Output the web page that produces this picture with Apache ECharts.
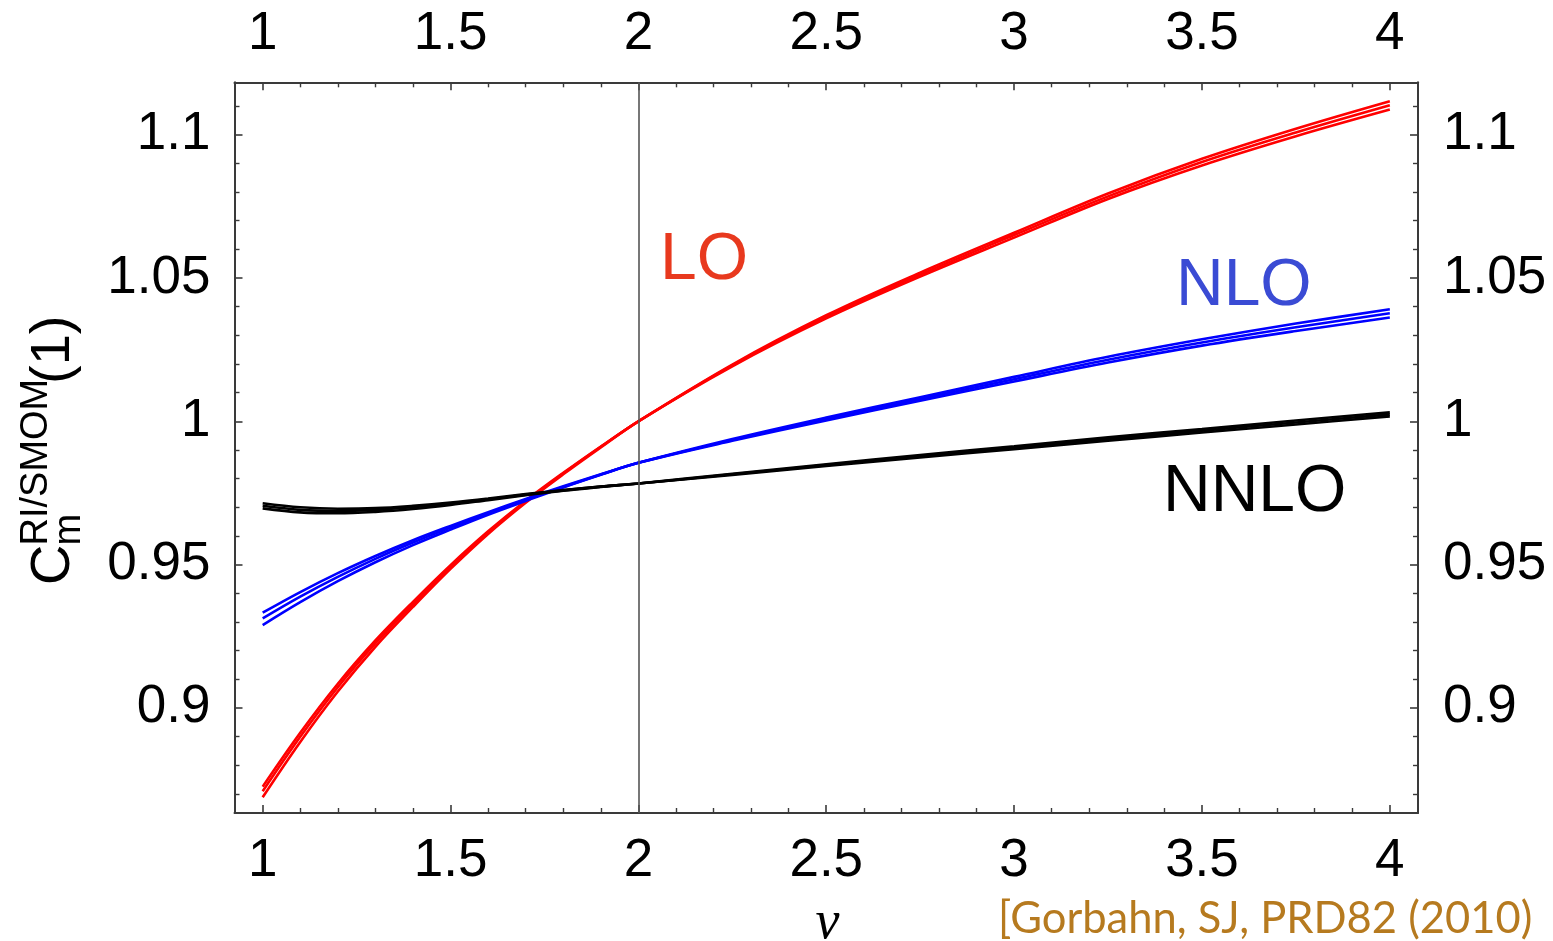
<!DOCTYPE html>
<html>
<head>
<meta charset="utf-8">
<script src="https://cdn.jsdelivr.net/npm/echarts@6/dist/echarts.min.js"></script>
<style>
html,body{margin:0;padding:0;background:#fff;}
#chart{width:1553px;height:941px;}
</style>
</head>
<body>
<div id="chart"></div>
<script>
// ---- data ----
const nu = [1.0, 1.1, 1.2, 1.3, 1.4, 1.5, 1.6, 1.7, 1.8, 1.9, 2.0, 2.25, 2.5, 2.75, 3.0, 3.25, 3.5, 3.75, 4.0];

const loHigh = [0.8725, 0.8913, 0.9084, 0.9235, 0.9370, 0.9498, 0.9616, 0.9723, 0.9820, 0.9912, 1.0000, 1.0198, 1.0370, 1.0519, 1.0658, 1.0795, 1.0916, 1.1021, 1.1117];
const loMid  = [0.8709, 0.8899, 0.9072, 0.9225, 0.9362, 0.9492, 0.9612, 0.9720, 0.9818, 0.9911, 1.0000, 1.0195, 1.0365, 1.0512, 1.0650, 1.0785, 1.0905, 1.1008, 1.1103];
const loLow  = [0.8688, 0.8881, 0.9057, 0.9213, 0.9352, 0.9485, 0.9607, 0.9716, 0.9815, 0.9909, 1.0000, 1.0192, 1.0359, 1.0505, 1.0641, 1.0776, 1.0893, 1.0995, 1.1088];

const nloHigh = [0.9332, 0.9404, 0.9470, 0.9530, 0.9585, 0.9635, 0.9683, 0.9729, 0.9773, 0.9815, 0.9855, 0.9938, 1.0013, 1.0084, 1.0155, 1.0225, 1.0286, 1.0341, 1.0391];
const nloMid  = [0.9312, 0.9388, 0.9457, 0.9520, 0.9577, 0.9629, 0.9679, 0.9726, 0.9771, 0.9814, 0.9855, 0.9935, 1.0008, 1.0078, 1.0147, 1.0215, 1.0275, 1.0328, 1.0377];
const nloLow  = [0.9289, 0.9369, 0.9442, 0.9508, 0.9568, 0.9622, 0.9674, 0.9722, 0.9769, 0.9813, 0.9855, 0.9932, 1.0003, 1.0072, 1.0139, 1.0205, 1.0264, 1.0315, 1.0362];

const nnloHigh = [0.9714, 0.9700, 0.9695, 0.9697, 0.9705, 0.9716, 0.9730, 0.9746, 0.9760, 0.9772, 0.9783, 0.9817, 0.9850, 0.9882, 0.9913, 0.9944, 0.9973, 1.0003, 1.0031];
const nnloMid  = [0.9705, 0.9691, 0.9687, 0.9691, 0.9700, 0.9712, 0.9728, 0.9744, 0.9759, 0.9772, 0.9783, 0.9815, 0.9847, 0.9878, 0.9908, 0.9938, 0.9967, 0.9996, 1.0024];
const nnloLow  = [0.9696, 0.9682, 0.9679, 0.9684, 0.9694, 0.9708, 0.9725, 0.9742, 0.9758, 0.9771, 0.9783, 0.9813, 0.9844, 0.9874, 0.9903, 0.9932, 0.9961, 0.9989, 1.0017];

const xMajorTicks = [1, 1.5, 2, 2.5, 3, 3.5, 4];
const xMinorTicks = [1.1, 1.2, 1.3, 1.4, 1.6, 1.7, 1.8, 1.9, 2.1, 2.2, 2.3, 2.4, 2.6, 2.7, 2.8, 2.9, 3.1, 3.2, 3.3, 3.4, 3.6, 3.7, 3.8, 3.9];
const yMajorTicks = [0.9, 0.95, 1, 1.05, 1.1];
const yMinorTicks = [0.87, 0.88, 0.89, 0.91, 0.92, 0.93, 0.94, 0.96, 0.97, 0.98, 0.99, 1.01, 1.02, 1.03, 1.04, 1.06, 1.07, 1.08, 1.09, 1.11];
const refLineAt = 2;

const xRange = [0.925, 4.075];
const yRange = [0.8633, 1.1183];

// ---- chart ----
const chart = echarts.init(document.getElementById('chart'), null, {renderer: 'canvas'});
const FONT = 'Liberation Sans, Arial, Helvetica, sans-serif';
const frameColor = '#3a3a3a';
const gridBox = {left: 234.5, top: 82.3, width: 1183.5, height: 730.7};

function majorX(pos) {
  return {
    type: 'value', gridIndex: 0, position: pos, min: xRange[0], max: xRange[1],
    axisLine: {show: true, onZero: false, lineStyle: {color: frameColor, width: 2}},
    axisTick: {show: true, inside: true, length: 8, customValues: xMajorTicks, lineStyle: {color: frameColor, width: 1.6}},
    axisLabel: {show: true, customValues: xMajorTicks, fontSize: 53, fontFamily: FONT, color: '#000', margin: pos === 'bottom' ? 22 : 21,
      formatter: v => String(+v.toFixed(2))},
    splitLine: {show: false}
  };
}
function minorX(pos) {
  return {
    type: 'value', gridIndex: 1, position: pos, min: xRange[0], max: xRange[1],
    axisLine: {show: false, onZero: false},
    axisTick: {show: true, inside: true, length: 5, customValues: xMinorTicks, lineStyle: {color: frameColor, width: 1.4}},
    axisLabel: {show: false},
    splitLine: {show: false}
  };
}
function majorY(pos) {
  return {
    type: 'value', gridIndex: 0, position: pos, min: yRange[0], max: yRange[1],
    axisLine: {show: true, onZero: false, lineStyle: {color: frameColor, width: 2}},
    axisTick: {show: true, inside: true, length: 8, customValues: yMajorTicks, lineStyle: {color: frameColor, width: 1.6}},
    axisLabel: {show: true, customValues: yMajorTicks, fontSize: 53, fontFamily: FONT, color: '#000', margin: pos === 'left' ? 24 : 25,
      formatter: v => String(+v.toFixed(2))},
    splitLine: {show: false}
  };
}
function minorY(pos) {
  return {
    type: 'value', gridIndex: 1, position: pos, min: yRange[0], max: yRange[1],
    axisLine: {show: false, onZero: false},
    axisTick: {show: true, inside: true, length: 5, customValues: yMinorTicks, lineStyle: {color: frameColor, width: 1.4}},
    axisLabel: {show: false},
    splitLine: {show: false}
  };
}

function curve(name, ys, color, z) {
  return {
    name: name, type: 'line', xAxisIndex: 0, yAxisIndex: 0,
    data: nu.map((x, i) => [x, ys[i]]),
    showSymbol: false, symbol: 'none', smooth: 0.35, z: z,
    lineStyle: {color: color, width: 2.6},
    emphasis: {disabled: true}, silent: true
  };
}

const series = [
  {
    type: 'line', xAxisIndex: 0, yAxisIndex: 0, data: [], z: 1, silent: true,
    markLine: {
      silent: true, symbol: 'none', animation: false,
      label: {show: false},
      lineStyle: {color: '#555', width: 1.6, type: 'solid'},
      data: [{xAxis: refLineAt}]
    }
  },
  curve('LO hi', loHigh, '#ff0000', 2),
  curve('LO', loMid, '#ff0000', 2),
  curve('LO lo', loLow, '#ff0000', 2),
  curve('NLO hi', nloHigh, '#0000ff', 3),
  curve('NLO', nloMid, '#0000ff', 3),
  curve('NLO lo', nloLow, '#0000ff', 3),
  curve('NNLO hi', nnloHigh, '#000000', 4),
  curve('NNLO', nnloMid, '#000000', 4),
  curve('NNLO lo', nnloLow, '#000000', 4)
];

const option = {
  animation: false,
  backgroundColor: '#ffffff',
  grid: [
    Object.assign({containLabel: false}, gridBox),
    Object.assign({containLabel: false}, gridBox)
  ],
  xAxis: [majorX('bottom'), majorX('top'), minorX('bottom'), minorX('top')],
  yAxis: [majorY('left'), majorY('right'), minorY('left'), minorY('right')],
  series: series,
  graphic: [
    // curve labels
    {type: 'text', x: 660, y: 260.5, style: {text: 'LO', fontSize: 66, fontFamily: FONT, fill: '#e8391e', textAlign: 'left', textVerticalAlign: 'middle'}},
    {type: 'text', x: 1176, y: 287, style: {text: 'NLO', fontSize: 66, fontFamily: FONT, fill: '#3a4bd4', textAlign: 'left', textVerticalAlign: 'middle'}},
    {type: 'text', x: 1163, y: 493, style: {text: 'NNLO', fontSize: 66, fontFamily: FONT, fill: '#000000', textAlign: 'left', textVerticalAlign: 'middle'}},
    // y-axis title  C_m^{RI/SMOM}(1), rotated
    {type: 'text', x: 53.7, y: 585, rotation: Math.PI / 2, style: {text: 'C', fontSize: 56, fontFamily: FONT, fill: '#000', textAlign: 'left', textVerticalAlign: 'middle'}},
    {type: 'text', x: 69.6, y: 545.5, rotation: Math.PI / 2, style: {text: 'm', fontSize: 38, fontFamily: FONT, fill: '#000', textAlign: 'left', textVerticalAlign: 'middle'}},
    {type: 'text', x: 36.8, y: 545.5, rotation: Math.PI / 2, style: {text: 'RI/SMOM', fontSize: 38, fontFamily: FONT, fill: '#000', textAlign: 'left', textVerticalAlign: 'middle'}},
    {type: 'text', x: 54, y: 384, rotation: Math.PI / 2, style: {text: '(1)', fontSize: 56, fontFamily: FONT, fill: '#000', textAlign: 'left', textVerticalAlign: 'middle'}},
    // x-axis title
    {type: 'text', x: 827.5, y: 923.5, style: {text: 'ν', fontSize: 54, fontStyle: 'italic', fontFamily: 'Liberation Serif, DejaVu Serif, serif', fill: '#000', textAlign: 'center', textVerticalAlign: 'middle'}},
    // citation
    {type: 'text', x: 998, y: 918.6, style: {text: '[Gorbahn, SJ, PRD82 (2010)', fontSize: 43.5, fontFamily: 'Lato, Open Sans, sans-serif', fill: '#b67a1f', textAlign: 'left', textVerticalAlign: 'middle'}}
  ]
};
chart.setOption(option);
</script>
</body>
</html>
